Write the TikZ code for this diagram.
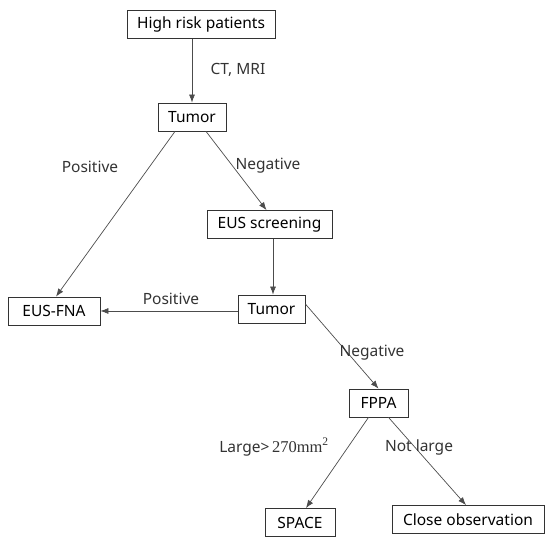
\documentclass[tikz,border=0pt]{standalone}
\usepackage{fontspec}
\setmainfont{Noto Sans}
\newfontfamily\numfont{Liberation Serif}
\usetikzlibrary{arrows.meta}
\usetikzlibrary{positioning}

\tikzset{
  stepbox/.style={draw=black!80, line width=0.8pt, inner xsep=6pt, minimum height=28pt, font=\fontsize{15.5}{18}\selectfont},
  flowline/.style={draw=black!70, line width=0.7pt, -{Latex[length=8pt,width=6pt]}},
  lbl/.style={inner sep=0.75pt, font=\fontsize{15.5}{18}\selectfont, text=black!80}
}

\begin{document}
\begin{tikzpicture}[x=1pt,y=1pt,yscale=-1,xscale=1]
        \useasboundingbox (0,0) rectangle (550,545);

        % Boxes
        \node [stepbox, minimum width=148pt] (high) at (201,24.5) {High risk patients};
        \node [stepbox, minimum width=68pt] (tumorA) at (192,117) {Tumor};
        \node [stepbox, minimum width=125pt] (screen) at (269.5,224.5) {EUS screening};
        \node [stepbox, minimum width=67pt] (tumorB) at (271.5,309) {Tumor};
        \node [stepbox, minimum width=92pt] (fna) at (54,311) {EUS-FNA};
        \node [stepbox, minimum width=59pt] (fppa) at (378.5,403) {FPPA};
        \node [stepbox, minimum width=70pt] (space) at (300,522.5) {SPACE};
        \node [stepbox, minimum width=152pt] (close) at (468,519.5) {Close observation};

        % Connectors
        \draw [flowline] (high.south -| tumorA) -- (tumorA.north);
        \draw [flowline] ([xshift=-17pt]tumorA.south) -- ([xshift=2pt]fna.north);
        \draw [flowline] ([xshift=14pt]tumorA.south) -- ([xshift=-3pt]screen.north);
        \draw [flowline] ([xshift=3.5pt]screen.south) -- ([xshift=1.5pt]tumorB.north);
        \draw [flowline] ([yshift=2pt]tumorB.west) -- (fna.east);
        \draw [flowline] ([yshift=-5pt]tumorB.east) -- (fppa.north);
        \draw [flowline] ([xshift=-10pt]fppa.south) -- ([xshift=6pt]space.north);
        \draw [flowline] ([xshift=10pt]fppa.south) -- ([xshift=-2pt]close.north);

        % Text Node
        \draw (238,70) node [lbl] (ctmri) {CT, MRI};
        % Text Node
        \draw (90,167) node [lbl] (posA) {Positive};
        % Text Node
        \draw (268,166) node [lbl] (negA) {Negative};
        % Text Node
        \draw (171,299) node [lbl] (posB) {Positive};
        % Text Node
        \draw (372,353) node [lbl] (negB) {Negative};
        % Text Node
        \draw (274,447) node [lbl] (large) {Large>\,{\numfont\fontsize{16.5}{18}\selectfont 270mm\textsuperscript{2}}};
        % Text Node
        \draw (419,447) node [lbl] (notlarge) {Not large};
    \end{tikzpicture}
\end{document}
